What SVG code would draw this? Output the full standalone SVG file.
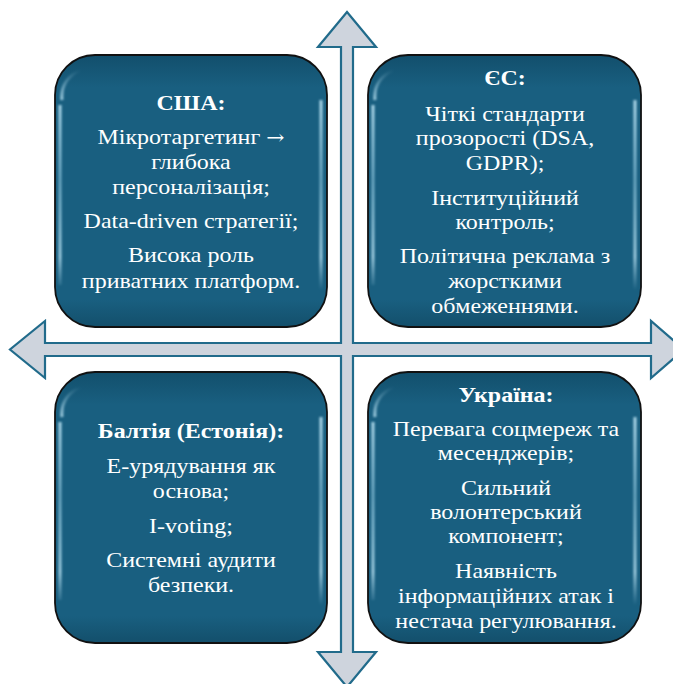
<svg xmlns="http://www.w3.org/2000/svg" width="673" height="684" viewBox="0 0 673 684">
<defs>
<style>
.cross{fill:#ced4dd;stroke:#216b8b;stroke-width:2.2;stroke-linejoin:miter}
.box{fill:url(#bg);stroke:#111;stroke-width:1.8}
.hl{fill:none;stroke:url(#hg);stroke-width:3;filter:url(#blur)}
.t{font-family:"Liberation Serif","Times New Roman",serif;font-size:22px;fill:#fff;text-anchor:middle}
.b{font-weight:bold}
.ar{font-family:"DejaVu Serif",serif;font-size:20px}
</style>
<linearGradient id="bg" x1="0" y1="0" x2="0" y2="1">
<stop offset="0" stop-color="#124f6c"/>
<stop offset="0.12" stop-color="#195f80"/>
<stop offset="0.9" stop-color="#195f80"/>
<stop offset="1" stop-color="#134f6b"/>
</linearGradient>
<linearGradient id="hg" x1="0" y1="0" x2="0" y2="1">
<stop offset="0" stop-color="#bfe6f6" stop-opacity="0"/>
<stop offset="0.15" stop-color="#bfe6f6" stop-opacity="0.9"/>
<stop offset="0.5" stop-color="#9fd4ea" stop-opacity="0.6"/>
<stop offset="0.85" stop-color="#bfe6f6" stop-opacity="0.8"/>
<stop offset="1" stop-color="#bfe6f6" stop-opacity="0"/>
</linearGradient>
<filter id="blur" x="-20%" y="-20%" width="140%" height="140%"><feGaussianBlur stdDeviation="0.9"/></filter>
</defs>
<g id="connectors">
<polygon class="cross" points="347,12 376,47 353,47 353,343 651,343 651,321 684,349.5 651,378 651,356 353,356 353,652 376,652 347,687 318,652 341,652 341,356 45,356 45,378 10,349.5 45,321 45,343 341,343 341,47 318,47"/>
</g>
<g id="usa">
<rect class="box" x="55" y="55" width="272" height="272" rx="40"/>
<path class="hl" d="M62,100 Q60,80 80,70 M60,105 L60,285 M321,100 L321,290"/>
<g transform="translate(191 0) scale(1.09 1)">
<text class="t b" x="0" y="110">США:</text>
<text class="t" x="0" y="144">Мікротаргетинг <tspan class="ar">→</tspan></text>
<text class="t" x="0" y="169">глибока</text>
<text class="t" x="0" y="194">персоналізація;</text>
<text class="t" x="0" y="228">Data-driven стратегії;</text>
<text class="t" x="0" y="262">Висока роль</text>
<text class="t" x="0" y="288">приватних платформ.</text>
</g>
</g>
<g id="eu">
<rect class="box" x="368" y="55" width="273" height="272" rx="40"/>
<path class="hl" d="M375,100 Q373,80 393,70 M373,105 L373,285 M635,100 L635,290"/>
<g transform="translate(505 0) scale(1.09 1)">
<text class="t b" x="0" y="85">ЄС:</text>
<text class="t" x="0" y="121">Чіткі стандарти</text>
<text class="t" x="0" y="145">прозорості (DSA,</text>
<text class="t" x="0" y="170">GDPR);</text>
<text class="t" x="0" y="205">Інституційний</text>
<text class="t" x="0" y="229">контроль;</text>
<text class="t" x="0" y="263">Політична реклама з</text>
<text class="t" x="0" y="288">жорсткими</text>
<text class="t" x="0" y="313">обмеженнями.</text>
</g>
</g>
<g id="baltics">
<rect class="box" x="55" y="372" width="272" height="271" rx="40"/>
<path class="hl" d="M62,417 Q60,397 80,387 M60,422 L60,600 M321,417 L321,605"/>
<g transform="translate(191 0) scale(1.09 1)">
<text class="t b" x="0" y="438">Балтія (Естонія):</text>
<text class="t" x="0" y="473">Е-урядування як</text>
<text class="t" x="0" y="498">основа;</text>
<text class="t" x="0" y="533">I-voting;</text>
<text class="t" x="0" y="567">Системні аудити</text>
<text class="t" x="0" y="592">безпеки.</text>
</g>
</g>
<g id="ukraine">
<rect class="box" x="368" y="372" width="273" height="271" rx="40"/>
<path class="hl" d="M375,417 Q373,397 393,387 M373,422 L373,600 M635,417 L635,605"/>
<g transform="translate(506 0) scale(1.09 1)">
<text class="t b" x="0" y="402">Україна:</text>
<text class="t" x="0" y="436">Перевага соцмереж та</text>
<text class="t" x="0" y="460">месенджерів;</text>
<text class="t" x="0" y="495">Сильний</text>
<text class="t" x="0" y="519">волонтерський</text>
<text class="t" x="0" y="543">компонент;</text>
<text class="t" x="0" y="578">Наявність</text>
<text class="t" x="0" y="603">інформаційних атак і</text>
<text class="t" x="0" y="628">нестача регулювання.</text>
</g>
</g>
</svg>
